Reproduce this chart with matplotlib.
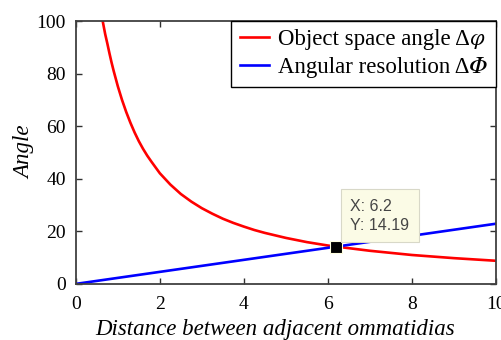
import matplotlib
matplotlib.use("Agg")
import matplotlib.pyplot as plt

# values
dist_red = [0.60, 0.64, 0.70, 0.75, 0.80, 0.85, 0.90, 1.0, 1.1, 1.2, 1.3, 1.4, 1.5,
            1.6, 1.7, 1.8, 2.0, 2.25, 2.5, 2.75, 3.0, 3.25, 3.5, 3.75, 4.0, 4.25,
            4.5, 5.0, 5.5, 6.0, 6.2, 7.0, 8.0, 9.0, 10.0]
object_angle = [104, 100, 95, 91.5, 87.8, 84.3, 81.1, 75.2, 70.0, 65.4, 61.3, 57.6,
                54.3, 51.4, 48.8, 46.5, 42.1, 37.8, 34.2, 31.3, 28.8, 26.7, 24.8,
                23.2, 21.8, 20.5, 19.4, 17.5, 15.9, 14.6, 14.19, 12.6, 11.0, 9.8, 8.8]

dist_blue = [0.0, 6.2, 10.0]
angular_res = [0.0, 14.19, 22.9]

tip_x, tip_y = 6.2, 14.19
x_ticks = [0, 2, 4, 6, 8, 10]
y_ticks = [0, 20, 40, 60, 80, 100]

plt.rcParams["font.family"] = ["Liberation Serif", "STIXGeneral", "DejaVu Serif"]
plt.rcParams["mathtext.fontset"] = "stix"

fig = plt.figure(figsize=(5.02, 3.40), dpi=100)
ax = fig.add_axes([0.151, 0.165, 0.837, 0.773])

ax.plot(dist_red, object_angle, color="#ff0000", lw=1.9,
        label="Object space angle \u0394\U0001D711")
ax.plot(dist_blue, angular_res, color="#0000ff", lw=1.9,
        label="Angular resolution \u0394\U0001D6F7")

ax.plot([tip_x], [tip_y], marker="s", ms=8.5, mfc="black", mec="#ffffe0",
        mew=0.8, ls="none", zorder=5)
ax.annotate(f"X: {tip_x}\nY: {tip_y}", xy=(tip_x, tip_y), xytext=(14, 14),
            textcoords="offset pixels", ha="left", va="bottom",
            family=["Liberation Sans", "DejaVu Sans"], fontsize=11.5,
            color="#454545", linespacing=1.3, zorder=6,
            bbox=dict(boxstyle="square,pad=0.6", fc="#fbfbe6", ec="#d8d8c8", lw=0.8))

ax.set_xlim(0, 10)
ax.set_ylim(0, 100)
ax.set_xticks(x_ticks)
ax.set_yticks(y_ticks)
ax.tick_params(direction="in", top=True, right=True, length=4, width=1,
               labelsize=14, colors="#303030", labelcolor="black")
ax.tick_params(axis="x", pad=9)
ax.tick_params(axis="y", pad=7)
for sp in ax.spines.values():
    sp.set_color("#404040")
    sp.set_linewidth(1.3)

ax.set_xlabel("Distance between adjacent ommatidias", fontsize=16.5, style="italic")
ax.set_ylabel("Angle", fontsize=16.5, style="italic")
ax.yaxis.set_label_coords(-0.097, 0.5)
ax.xaxis.set_label_coords(0.474, -0.133)

leg = ax.legend(loc="upper right", borderaxespad=0, fontsize=16.5, fancybox=False,
                framealpha=1, edgecolor="black", handlelength=1.3,
                handletextpad=0.4, borderpad=0.36, labelspacing=0.3)
leg.get_frame().set_linewidth(1.0)

fig.savefig("out.png", dpi=100)
